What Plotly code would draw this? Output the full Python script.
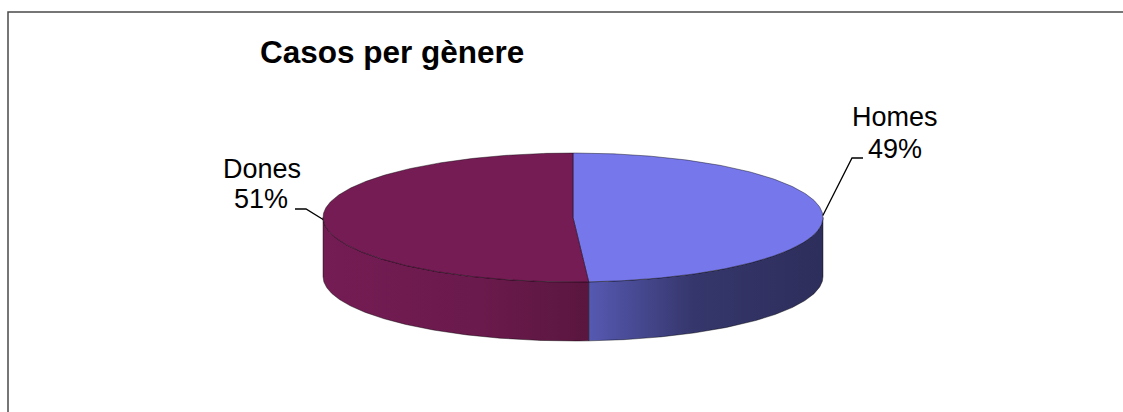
import numpy as np
import plotly.graph_objects as go

# ---- data ----
categories = ["Homes", "Dones"]
values = [49, 51]
title_text = "Casos per gènere"

# ---- style ----
top_colors = ["#7777EC", "#761C55"]
side_scales = [
    [[0, "#5659B2"], [0.45, "#35366B"], [1, "#2E2E5C"]],
    [[0, "#741C54"], [0.6, "#6A1A4C"], [1, "#5A163F"]],
]
W, H = 1123, 412
CX, CY, RX, RY, DEPTH = 573, 217.5, 250, 64.5, 59
FONT = "Liberation Sans, Arial, sans-serif"
EDGE = "rgba(0,0,0,0.6)"

# label layout: name/pct centres, leader elbow and end
label_layout = {
    "Homes": dict(nx=895, ny=117, px=895, py=149, ex=852, ey=158, endx=863),
    "Dones": dict(nx=262, ny=169, px=261, py=199, ex=306, ey=209, endx=295),
}


def pt(t):
    return CX + RX * np.sin(t), CY - RY * np.cos(t)


total = float(sum(values))
fig = go.Figure()

starts, ends = [], []
acc = 0.0
for v in values:
    t0 = 2 * np.pi * acc / total
    acc += v
    t1 = 2 * np.pi * acc / total
    starts.append(t0)
    ends.append(t1)

# side walls (front half only)
for i, (t0, t1) in enumerate(zip(starts, ends)):
    a = max(t0, np.pi / 2)
    b = min(t1, 3 * np.pi / 2)
    if b <= a:
        continue
    ts = np.linspace(a, b, 200)
    xs, ys = pt(ts)
    px = np.concatenate([xs, xs[::-1], xs[:1]])
    py = np.concatenate([ys, ys[::-1] + DEPTH, ys[:1]])
    fig.add_trace(go.Scatter(
        x=px, y=py, mode="lines", fill="toself",
        fillgradient=dict(type="horizontal", colorscale=side_scales[i]),
        line=dict(color=EDGE, width=0.7), hoverinfo="skip", showlegend=False))

# top faces
for i, (t0, t1) in enumerate(zip(starts, ends)):
    ts = np.linspace(t0, t1, 300)
    xs, ys = pt(ts)
    px = np.concatenate([[CX], xs, [CX]])
    py = np.concatenate([[CY], ys, [CY]])
    fig.add_trace(go.Scatter(
        x=px, y=py, mode="lines", fill="toself", fillcolor=top_colors[i],
        line=dict(color=EDGE, width=0.7), hoverinfo="skip", showlegend=False))

# labels and leader lines
annotations = []
for i, cat in enumerate(categories):
    mid = (starts[i] + ends[i]) / 2
    ax, ay = pt(mid)
    L = label_layout[cat]
    fig.add_trace(go.Scatter(
        x=[ax, L["ex"], L["endx"]], y=[ay, L["ey"], L["ey"]], mode="lines",
        line=dict(color="black", width=1.3), hoverinfo="skip", showlegend=False))
    pct = f"{round(100 * values[i] / total)}%"
    annotations.append(dict(x=L["nx"], y=L["ny"], text=cat, showarrow=False,
                            xanchor="center", yanchor="middle",
                            font=dict(family=FONT, size=27, color="black")))
    annotations.append(dict(x=L["px"], y=L["py"], text=pct, showarrow=False,
                            xanchor="center", yanchor="middle",
                            font=dict(family=FONT, size=27, color="black")))

annotations.append(dict(x=258, y=52, text=f"<b>{title_text}</b>", showarrow=False,
                        xanchor="left", yanchor="middle",
                        font=dict(family=FONT, size=31.5, color="black")))

fig.update_layout(
    width=W, height=H,
    margin=dict(l=0, r=0, t=0, b=0),
    paper_bgcolor="white", plot_bgcolor="white",
    xaxis=dict(range=[0, W], visible=False, fixedrange=True),
    yaxis=dict(range=[H, 0], visible=False, fixedrange=True),
    annotations=annotations,
    shapes=[dict(type="rect", xref="paper", yref="paper",
                 x0=8 / W, y0=1 - 12 / H, x1=1.3, y1=-0.3,
                 line=dict(color="#4a4a4a", width=1.5))],
)

fig.write_html("out.html")
